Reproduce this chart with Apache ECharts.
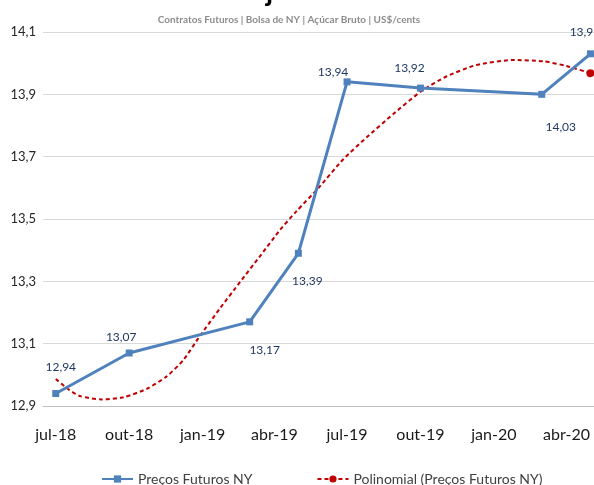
<!DOCTYPE html>
<html>
<head>
<meta charset="utf-8">
<script src="https://cdn.jsdelivr.net/npm/echarts@6/dist/echarts.min.js"></script>
<style>
html,body{margin:0;padding:0;background:#fff;}
#c{width:594px;height:485px;}
</style>
</head>
<body>
<div id="c"></div>
<script>
// ---- data ----
const priceDates = ['2018-07-01','2018-10-01','2019-03-01','2019-05-01','2019-07-01','2019-10-01','2020-03-01','2020-05-01'];
const priceValues = [12.94, 13.07, 13.17, 13.39, 13.94, 13.92, 13.90, 14.03];
const priceLabels = ['12,94','13,07','13,17','13,39','13,94','13,92','14,03','13,9'];
const trendDates = ['2018-07-01','2018-07-15','2018-07-31','2018-08-28','2018-09-24','2018-10-23','2018-11-17','2018-12-08','2018-12-29','2019-01-23','2019-02-17','2019-03-14','2019-04-08','2019-04-29','2019-05-26','2019-06-26','2019-07-26','2019-08-28','2019-10-02','2019-11-03','2019-12-10','2020-01-25','2020-03-03','2020-04-01','2020-05-01'];
const trendValues = [12.987, 12.957, 12.932, 12.921, 12.928, 12.955, 12.995, 13.048, 13.126, 13.214, 13.298, 13.381, 13.465, 13.526, 13.599, 13.691, 13.763, 13.837, 13.910, 13.958, 13.994, 14.010, 14.006, 13.991, 13.968];
const tickDates = ['2018-07-01','2018-10-01','2019-01-01','2019-04-01','2019-07-01','2019-10-01','2020-01-01','2020-04-01'];
const tickLabels = ['jul-18','out-18','jan-19','abr-19','jul-19','out-19','jan-20','abr-20'];
const seriesNames = ['Preços Futuros NY', 'Polinomial (Preços Futuros NY)'];
const subtitle = 'Contratos Futuros | Bolsa de NY | Açúcar Bruto | US$/cents';

// ---- chart ----
const t = s => +echarts.number.parseDate(s);
const tickTimes = tickDates.map(t);
const labelOffsets = [[5,-26],[-8,-16],[15,28],[9,28],[-14,-10],[-11,-20],[19,33],[-9,-22]];

const chart = echarts.init(document.getElementById('c'), null, {renderer:'canvas'});
const FONT = 'Lato';
chart.setOption({
  animation:false,
  backgroundColor:'#ffffff',
  title:{
    text: subtitle, left: 284, textAlign:'center', top: 10,
    textStyle:{fontFamily:FONT, fontSize:10, fontWeight:'bold', color:'#8c8c8c'}
  },
  graphic:[{type:'text', left: 266, top: -22, style:{text:'j', font:'bold 28px Lato', fill:'#000'}}],
  grid:{left:43, right:-10, top:32, bottom:79, containLabel:false, outerBoundsMode:'none'},
  legend:{
    left: 96, top: 467, itemWidth: 31, itemHeight: 9, itemGap: 64,
    textStyle:{fontFamily:FONT, fontSize:14, color:'#404040'},
    data: seriesNames
  },
  xAxis:{
    type:'value', min: t('2018-06-15'), max: t('2020-05-18'),
    axisLine:{show:true, lineStyle:{color:'#bfbfbf', width:1}},
    axisTick:{show:false},
    splitLine:{show:false},
    axisLabel:{
      customValues: tickTimes, margin: 21,
      fontFamily:FONT, fontSize:16, color:'#1a1a1a',
      formatter: v => { const i = tickTimes.findIndex(x => Math.abs(x - v) < 86400000); return i >= 0 ? tickLabels[i] : ''; }
    }
  },
  yAxis:{
    type:'value', min:12.9, max:14.1, interval:0.2,
    axisLine:{show:false}, axisTick:{show:false},
    splitLine:{lineStyle:{color:'#d9d9d9', width:1}},
    axisLabel:{margin:7, fontFamily:FONT, fontSize:13, color:'#262626',
      formatter: v => v.toFixed(1).replace('.', ',')}
  },
  series:[
    {
      name: seriesNames[0], type:'line',
      data: priceDates.map((d,i) => [t(d), priceValues[i]]),
      symbol:'rect', symbolSize:7, z:3,
      lineStyle:{color:'#4F81BD', width:3},
      itemStyle:{color:'#4F81BD'},
      label:{
        show:true, position:'inside',
        fontFamily:FONT, fontSize:12, color:'#1F3864',
        formatter: p => priceLabels[p.dataIndex]
      },
      labelLayout: p => ({dx: labelOffsets[p.dataIndex][0], dy: labelOffsets[p.dataIndex][1]})
    },
    {
      name: seriesNames[1], type:'line', smooth:0.2,
      data: trendDates.map((d,i) => [t(d), trendValues[i]]),
      symbol:'circle', z:2,
      symbolSize: (v, p) => p.dataIndex === trendDates.length - 1 ? 8 : 0,
      lineStyle:{color:'#C00000', width:2, type:[4,3]},
      itemStyle:{color:'#C00000'}
    }
  ]
});
</script>
</body>
</html>
